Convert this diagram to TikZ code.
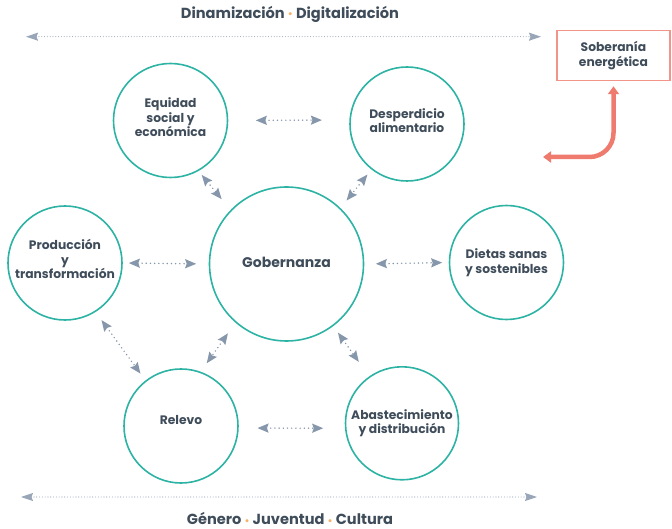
\documentclass[tikz,border=0pt]{standalone}
\usepackage{fontspec}
\setmainfont{Poppins}
\usetikzlibrary{arrows.meta}
\definecolor{circteal}{HTML}{2DB3A4}
\definecolor{txtgray}{HTML}{3F4C5A}
\definecolor{arrgray}{HTML}{8696AB}
\definecolor{salmon}{HTML}{EF7B6E}
\definecolor{boxred}{HTML}{F29488}
\definecolor{dotorange}{HTML}{F7B267}
\begin{document}
\begin{tikzpicture}[x=1pt,y=-1pt,
  txt/.style={text=txtgray, font=\bfseries\fontsize{12.3}{14.5}\selectfont, align=center},
  circ/.style={circle, draw=circteal, line width=1.6pt, minimum size=114pt, inner sep=0pt, txt},
  tipg/.tip={Stealth[length=11pt,width=9pt,inset=1.5pt]},
  link/.style={draw=arrgray, line width=1.6pt, dash pattern=on 0pt off 4.2pt, line cap=round, tipg-tipg},
  longlink/.style={draw=arrgray!85, line width=1.1pt, dash pattern=on 0pt off 2.8pt, line cap=round, {Stealth[length=12pt,width=8pt,inset=1.5pt]}-{Stealth[length=12pt,width=8pt,inset=1.5pt]}},
  redarrow/.style={draw=salmon, line width=4.5pt, rounded corners=24pt, {Triangle[length=8pt,width=11pt]}-{Triangle[length=8pt,width=11pt]}},
  headline/.style={text=txtgray, font=\bfseries\fontsize{14.6}{17}\selectfont, inner sep=1pt},
]
\useasboundingbox (0,0) rectangle (672,529);
\newcommand{\sepdot}{\ \textcolor{dotorange}{\raisebox{0.3pt}{\fontsize{10}{10}\selectfont•}}\ }

% top and bottom labels
\node[headline] (toptxt) at (290,14) {Dinamización\sepdot Digitalización};
\node[headline] (bottxt) at (290,518.5) {Género\sepdot Juventud\sepdot Cultura};
\coordinate (tl) at (26,36.7);
\coordinate (tr) at (541,36.7);
\coordinate (bl) at (21,497);
\coordinate (br) at (537,497);
\draw[longlink] (tl) -- (tr);
\draw[longlink] (bl) -- (br);

% circles
\node[circ, minimum size=154pt, font=\bfseries\fontsize{14}{16}\selectfont] (gob) at (286.5,264) {\raisebox{2pt}[\height][\depth]{Gobernanza}};
\node[circ] (eq) at (170.5,120.5) {\raisebox{3pt}[\height][\depth]{Equidad}\\\raisebox{3pt}[\height][\depth]{social y}\\\raisebox{3pt}[\height][\depth]{económica}};
\node[circ] (desp) at (407,124) {\raisebox{3.5pt}[\height][\depth]{Desperdicio}\\\raisebox{3.5pt}[\height][\depth]{alimentario}};
\node[circ] (prod) at (65,263) {\raisebox{4pt}[\height][\depth]{Producción}\\\raisebox{4pt}[\height][\depth]{y}\\\raisebox{4pt}[\height][\depth]{transformación}};
\node[circ] (diet) at (506.5,262.5) {Dietas sanas\\y sostenibles};
\node[circ] (rel) at (181,426) {\raisebox{6pt}[\height][\depth]{Relevo}};
\node[circ, minimum size=113pt] (abas) at (402,423.3) {Abastecimiento\\y distribución};

% box
\node[draw=boxred, line width=1.5pt, minimum width=113pt, minimum height=50pt, inner sep=0pt, txt] (sob) at (613.5,55.5) {Soberanía\\energética};
\coordinate (redend) at (543,157);
\draw[redarrow] ([yshift=-5pt]sob.south) |- (redend);

% links
\draw[link, shorten <=27.5pt, shorten >=27.4pt] (eq.0) -- (desp.176);
\draw[link, shorten <=18.7pt, shorten >=21.7pt] (rel.-2) -- (abas.185);
\draw[link, shorten <=6pt, shorten >=12.5pt] (prod.0) -- (gob.180);
\draw[link, shorten <=11.5pt, shorten >=6.5pt] (gob.0) -- (diet.180);
\draw[link, shorten <=5pt, shorten >=14pt] (eq.-61.6) -- (gob.136.9);
\draw[link, shorten <=6.4pt, shorten >=9.6pt] (desp.232.1) -- (gob.46);
\draw[link, shorten <=13pt, shorten >=10.3pt] (gob.229.6) -- (rel.70);
\draw[link, shorten <=8pt, shorten >=17.8pt] (gob.-53.8) -- (abas.125.4);
\draw[link, shorten <=10pt, shorten >=8.4pt] (prod.-58.4) -- (rel.128.8);
\end{tikzpicture}
\end{document}
